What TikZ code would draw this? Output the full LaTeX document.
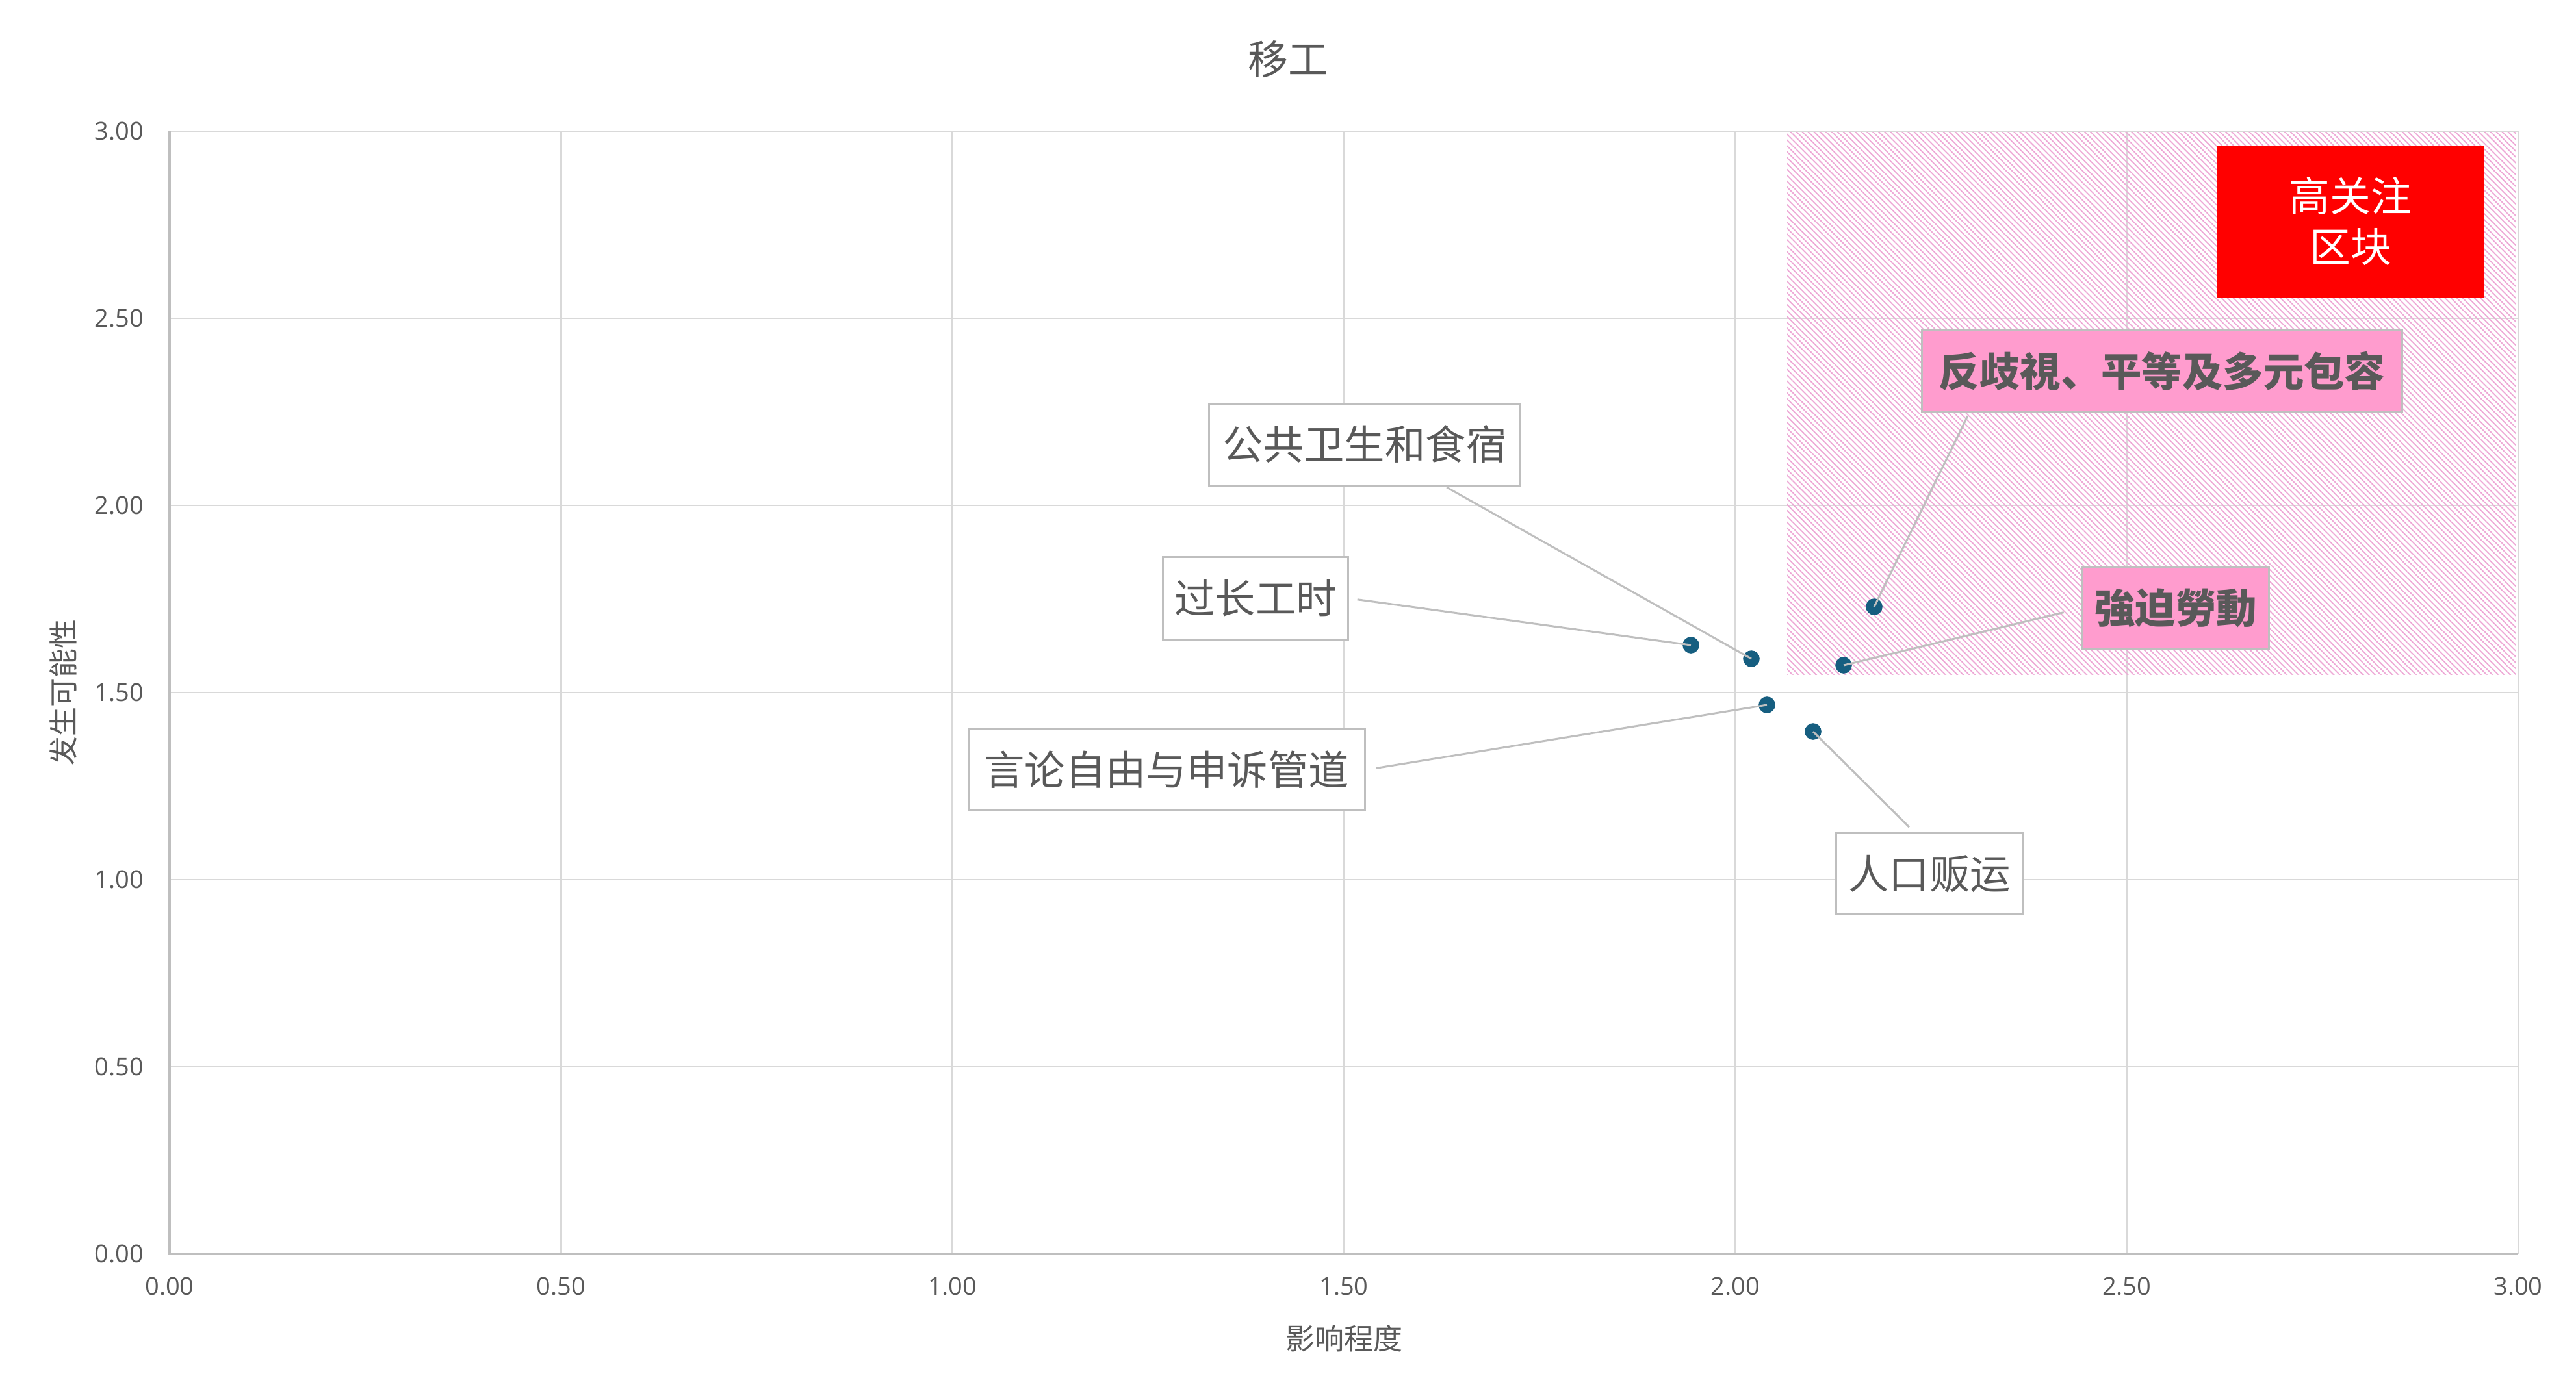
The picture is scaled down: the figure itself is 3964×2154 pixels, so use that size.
\documentclass[tikz,border=0pt]{standalone}
\usepackage{fontspec}
\setmainfont{Noto Sans CJK SC}
\newfontfamily\numfont{Open Sans}
\usetikzlibrary{patterns.meta,calc}
\definecolor{txtgray}{RGB}{89,89,89}
\definecolor{gridgray}{RGB}{217,217,217}
\definecolor{axgray}{RGB}{191,191,191}
\definecolor{dotblue}{RGB}{22,94,128}
\definecolor{hatchpink}{RGB}{238,168,214}
\definecolor{labpink}{RGB}{255,156,206}
\definecolor{hired}{RGB}{255,0,0}
\tikzset{
  gridln/.style={draw=gridgray, line width=0.7pt},
  axisln/.style={draw=axgray, line width=0.8pt},
  ticklab/.style={text=txtgray, inner sep=0pt, font=\numfont\fontsize{9.5pt}{11pt}\selectfont},
  axtitle/.style={text=txtgray, inner sep=0pt, font=\fontsize{11.25pt}{13pt}\selectfont},
  lab/.style={draw=axgray, line width=0.75pt, fill=white, inner sep=0pt, text=txtgray,
    font=\fontsize{15.6pt}{18pt}\selectfont},
  pinklab/.style={lab, fill=labpink, font=\fontsize{15.6pt}{18pt}\selectfont\bfseries},
  redbox/.style={fill=hired, inner sep=0pt, text=white, align=center,
    font=\fontsize{15.7pt}{19.5pt}\selectfont},
  dotmark/.style={circle, fill=dotblue, inner sep=0pt, minimum size=6.4pt},
  leader/.style={draw=axgray, line width=0.75pt}
}
\begin{document}
\begin{tikzpicture}[x=0.25pt,y=-0.25pt]
\useasboundingbox[fill=white] (0,0) rectangle (3964,2154);
% gridlines
\foreach \i in {1,...,6} {
  \draw[gridln] ({261+602.33*\i},202) -- ({261+602.33*\i},1930);
  \draw[gridln] (261,{1930-288*\i}) -- (3875,{1930-288*\i});
}
% hatched high-attention zone
\fill[pattern={Lines[angle=-45,distance=1.6pt,line width=0.45pt]}, pattern color=hatchpink]
  (2750,203) rectangle (3871,1038);
% axes
\draw[axisln] (261,202) -- (261,1930) -- (3875,1930);
% tick labels
\foreach \i/\t in {0/0.00,1/0.50,2/1.00,3/1.50,4/2.00,5/2.50,6/3.00} {
  \node[ticklab, anchor=east] at (222,{1930-288*\i}) {\t};
  \node[ticklab] at ({261+602.33*\i},1980) {\t};
}
% titles
\node[text=txtgray, font=\fontsize{15.5pt}{18pt}\selectfont] (title) at (1982,91) {移工};
\node[axtitle, rotate=90] (ytitle) at (97,1066) {发生可能性};
\node[axtitle] (xtitle) at (2068,2060) {影响程度};
% data points
\node[dotmark] (d1) at (2602,993) {};
\node[dotmark] (d2) at (2695,1014) {};
\node[dotmark] (d3) at (2884,934) {};
\node[dotmark] (d4) at (2837,1024) {};
\node[dotmark] (d5) at (2719,1085) {};
\node[dotmark] (d6) at (2790,1126) {};
% labels
\node[redbox, minimum width=102.75pt, minimum height=58.25pt] (hz) at (3617,341) {高关注\\区块};
\node[lab, minimum width=119.75pt, minimum height=31.5pt] (gg) at (2100,684) {公共卫生和食宿};
\node[lab, minimum width=71.25pt, minimum height=32pt] (gc) at (1932,921) {过长工时};
\node[lab, minimum width=152.5pt, minimum height=31.25pt] (yl) at (1795,1185) {言论自由与申诉管道};
\node[lab, minimum width=71.75pt, minimum height=31.25pt] (rk) at (2969,1345) {人口贩运};
\node[pinklab, minimum width=184.75pt, minimum height=31.5pt] (fq) at (3327,571) {反歧視、平等及多元包容};
\node[pinklab, minimum width=71.75pt, minimum height=31.25pt] (qp) at (3348,936) {強迫勞動};
% leader lines
\coordinate (gg-a) at ($(gg.south west)!0.756!(gg.south east)$);
\coordinate (rk-a) at ($(rk.north west)!0.42!(rk.north east)$);
\coordinate (fq-a) at ($(fq.south west)!0.10!(fq.south east)$);
\draw[leader, shorten <=0.8pt] (gg-a) -- (d2.center);
\draw[leader, shorten <=3.2pt] (gc.east) -- (d1.center);
\draw[leader, shorten <=4.2pt] (yl.east) -- (d5.center);
\draw[leader, shorten <=2.8pt] (rk-a) -- (d6.center);
\draw[leader, shorten <=1.3pt] (fq-a) -- (d3.center);
\draw[leader, shorten <=7pt] (qp.west) -- (d4.center);
\end{tikzpicture}
\end{document}
